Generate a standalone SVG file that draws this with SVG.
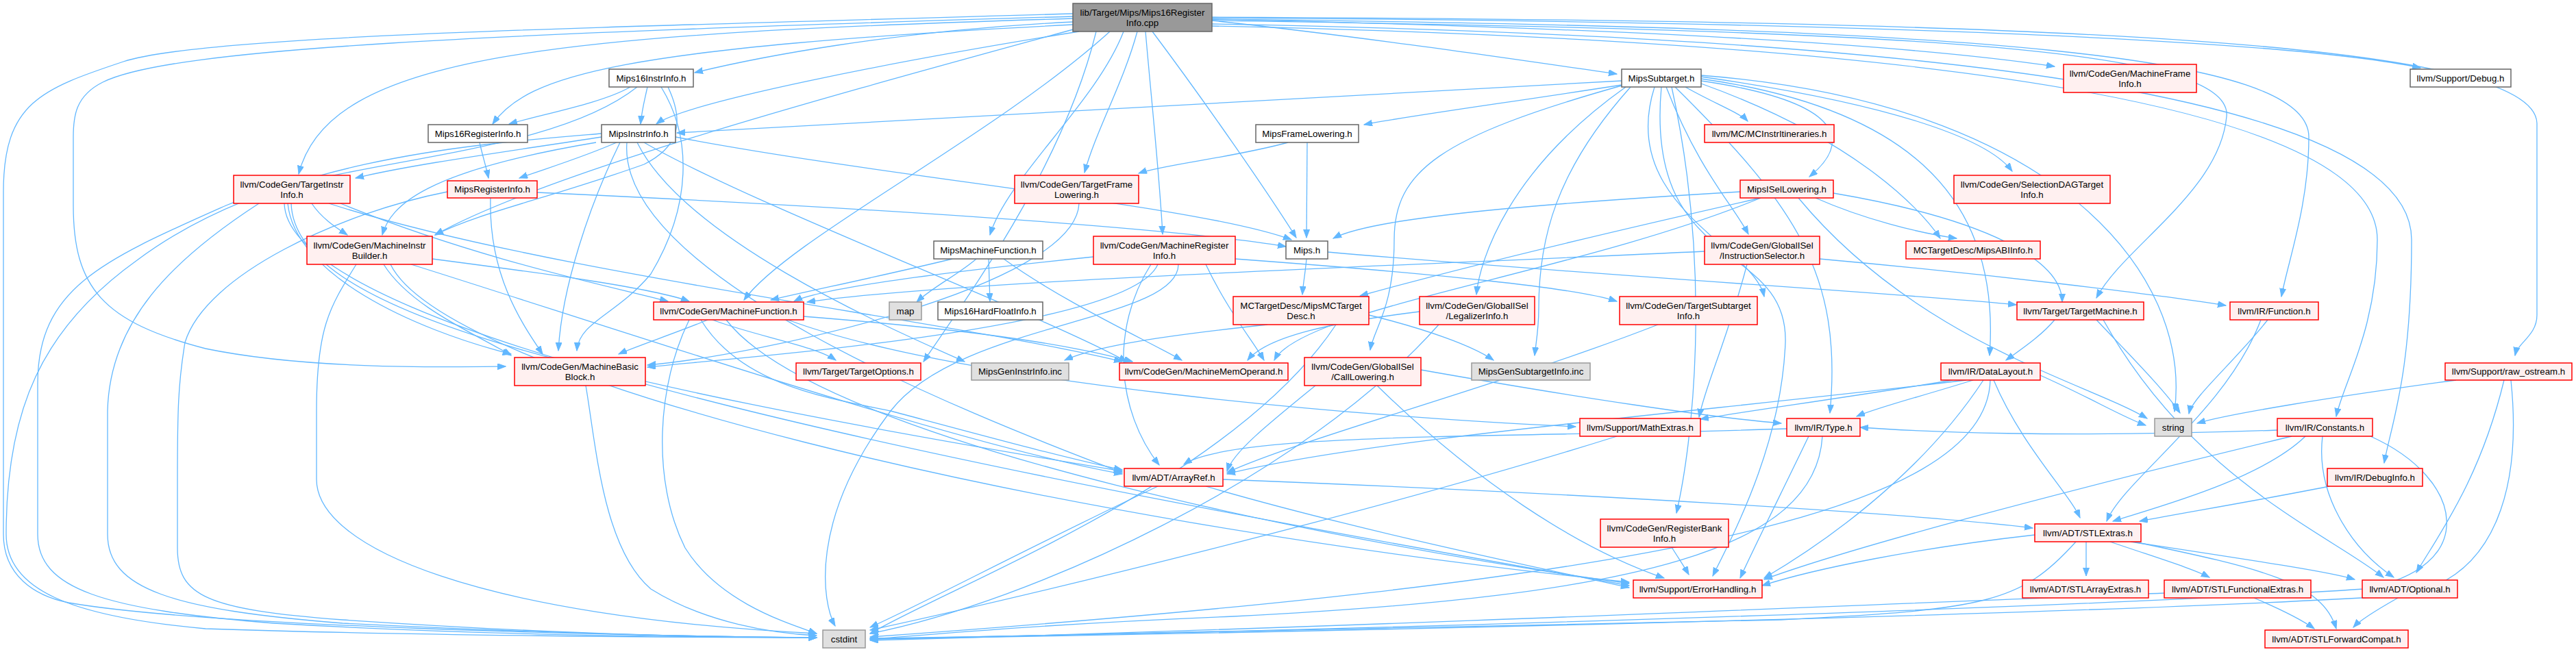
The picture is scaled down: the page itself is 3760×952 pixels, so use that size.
<svg xmlns="http://www.w3.org/2000/svg" width="3760" height="952" viewBox="0 0 3760 952">
<style>
.e{fill:none;stroke:#63B8FF;stroke-width:1.3;marker-end:url(#a)}
.nm{fill:#999999;stroke:#666666;stroke-width:1.5}
.nw{fill:#ffffff;stroke:#666666;stroke-width:1.5}
.nr{fill:#FFF0F0;stroke:#FF0000;stroke-width:1.5}
.ng{fill:#E0E0E0;stroke:#999999;stroke-width:1.5}
text{font-family:"Liberation Sans",Arial,sans-serif;font-size:13.3px;fill:#000000;text-anchor:middle}
</style>
<defs>
<marker id="a" markerWidth="13" markerHeight="10" refX="12" refY="4.5" orient="auto" markerUnits="userSpaceOnUse"><path d="M0,0 L12,4.5 L0,9 Z" fill="#63B8FF" stroke="#63B8FF" stroke-width="1"/></marker>
</defs>
<rect x="0" y="0" width="3760" height="952" fill="#ffffff"/>
<g id="edges">
<path class="e" d="M1566,32 C1300,45 1100,85 1014,106"/>
<path class="e" d="M1566,36 C900,70 770,110 719,181"/>
<path class="e" d="M1575,46 C1300,90 1000,150 958,181"/>
<path class="e" d="M1566,27 C800,50 480,80 436,254"/>
<path class="e" d="M1570,42 C1250,130 800,250 635,343"/>
<path class="e" d="M1682,46 C1760,150 1850,280 1892,347"/>
<path class="e" d="M1640,46 C1600,150 1470,260 1445,343"/>
<path class="e" d="M1660,46 C1640,120 1600,190 1583,252"/>
<path class="e" d="M1672,46 C1680,140 1692,250 1697,342"/>
<path class="e" d="M1620,46 C1450,200 1150,350 1086,438"/>
<path class="e" d="M1769,30 C2000,55 2200,85 2360,108"/>
<path class="e" d="M1769,28 C2300,40 2750,60 2999,97"/>
<path class="e" d="M1769,26 C2500,30 3300,50 3533,99"/>
<path class="e" d="M1769,30 C2800,45 3260,70 3250,170 C3240,280 3100,360 3060,435"/>
<path class="e" d="M1769,28 C2900,40 3370,80 3370,200 C3370,300 3340,380 3330,433"/>
<path class="e" d="M1769,38 C2800,60 3470,150 3470,350 C3470,480 3420,560 3410,608"/>
<path class="e" d="M1769,35 C2900,55 3520,150 3520,350 C3520,550 3490,620 3480,676"/>
<path class="e" d="M1769,25 C3000,30 3700,60 3703,180 L3703,460 C3703,490 3675,500 3671,519"/>
<path class="e" d="M1566,20 C900,40 300,50 180,90 C60,130 5,150 5,280 L5,780 C5,840 50,870 100,880 C300,915 900,928 1192,931"/>
<path class="e" d="M1566,24 C700,50 250,70 150,120 C110,140 107,170 107,200 L107,300 C107,420 150,470 300,509 C450,540 650,536 738,535"/>
<path class="e" d="M1600,46 C1550,250 1400,450 1348,528"/>
<path class="e" d="M920,127 C880,150 800,165 743,181"/>
<path class="e" d="M945,127 C940,150 937,160 935,181"/>
<path class="e" d="M965,127 C1010,200 1010,300 950,400 C900,460 845,470 842,512"/>
<path class="e" d="M930,127 C800,230 500,230 330,300 C150,380 55,420 55,560 L55,780 C55,860 150,890 400,910 C700,928 1000,930 1192,931"/>
<path class="e" d="M975,127 C1000,180 990,215 940,240 C800,290 700,310 635,343"/>
<path class="e" d="M700,208 C705,230 710,245 713,260"/>
<path class="e" d="M878,200 C750,220 600,240 519,260"/>
<path class="e" d="M900,208 C850,230 800,245 758,260"/>
<path class="e" d="M870,208 C620,250 570,300 558,343"/>
<path class="e" d="M905,208 C860,300 820,420 815,512"/>
<path class="e" d="M986,200 C1300,260 1750,300 1885,350"/>
<path class="e" d="M940,208 C1100,300 1500,450 1645,528"/>
<path class="e" d="M930,208 C1000,350 1300,480 1408,528"/>
<path class="e" d="M915,208 C900,400 1400,600 1638,690"/>
<path class="e" d="M878,195 C700,210 400,230 200,380 C60,480 9,600 9,780 C9,860 100,900 300,918 C600,928 1000,931 1192,931"/>
<path class="e" d="M784,281 C1200,300 1700,330 1877,360"/>
<path class="e" d="M716,289 C713,400 760,470 792,517"/>
<path class="e" d="M653,280 C500,310 300,400 270,500 C260,560 259,600 259,700 L259,800 C259,870 300,890 500,905 C800,925 1000,930 1192,931"/>
<path class="e" d="M455,297 C470,320 495,335 507,343"/>
<path class="e" d="M420,297 C430,400 600,480 746,517"/>
<path class="e" d="M497,297 C700,380 900,420 975,440"/>
<path class="e" d="M480,297 C800,400 1400,470 1638,528"/>
<path class="e" d="M425,297 C430,450 800,550 1638,688"/>
<path class="e" d="M415,297 C420,500 1500,700 2378,855"/>
<path class="e" d="M378,297 C250,380 160,470 157,600 L157,780 C157,860 250,890 500,910 C800,925 1000,930 1192,931"/>
<path class="e" d="M560,386 C600,450 700,490 746,519"/>
<path class="e" d="M631,378 C800,400 950,420 1006,440"/>
<path class="e" d="M600,386 C900,480 1400,650 1638,692"/>
<path class="e" d="M570,386 C650,550 1500,760 2378,850"/>
<path class="e" d="M520,386 C480,450 462,480 462,600 L462,700 C462,800 700,900 1192,925"/>
<path class="e" d="M1880,208 C1800,230 1700,240 1662,253"/>
<path class="e" d="M1908,208 L1907,347"/>
<path class="e" d="M1575,297 C1570,420 1100,520 945,533"/>
<path class="e" d="M1390,378 C1300,400 1180,425 1125,438"/>
<path class="e" d="M1425,378 C1400,400 1360,420 1338,441"/>
<path class="e" d="M1443,378 L1445,440"/>
<path class="e" d="M1465,378 C1550,440 1680,500 1725,526"/>
<path class="e" d="M1596,375 C1400,395 1200,420 1159,440"/>
<path class="e" d="M1690,386 C1650,480 1100,520 945,536"/>
<path class="e" d="M1803,378 C2100,400 2300,420 2360,440"/>
<path class="e" d="M1680,386 C1620,480 1630,600 1692,679"/>
<path class="e" d="M1720,386 C1720,470 1400,470 1300,600 C1180,760 1200,880 1219,914"/>
<path class="e" d="M1760,386 C1790,450 1830,500 1845,526"/>
<path class="e" d="M1033,467 C990,485 930,505 903,517"/>
<path class="e" d="M1040,467 C1100,490 1190,505 1220,526"/>
<path class="e" d="M1173,462 C1400,480 1550,500 1653,528"/>
<path class="e" d="M1023,467 C1080,560 1200,580 1300,600 C1450,640 1560,670 1638,686"/>
<path class="e" d="M1060,467 C1200,650 2000,800 2378,852"/>
<path class="e" d="M1006,467 C960,560 950,700 1000,800 C1050,880 1150,910 1192,925"/>
<path class="e" d="M1150,467 C1400,560 2000,610 2300,623"/>
<path class="e" d="M1950,474 C1800,700 1400,850 1270,925"/>
<path class="e" d="M1998,460 C2080,480 2150,505 2180,526"/>
<path class="e" d="M1850,474 C1700,490 1600,505 1554,526"/>
<path class="e" d="M2367,118 C1800,150 1300,180 988,194"/>
<path class="e" d="M2367,124 C2200,150 2050,170 1991,182"/>
<path class="e" d="M2460,127 C2500,150 2540,165 2551,177"/>
<path class="e" d="M2483,118 C2700,150 2700,210 2641,258"/>
<path class="e" d="M2432,127 C2480,250 2530,300 2552,342"/>
<path class="e" d="M2373,127 C2200,250 2160,380 2155,430"/>
<path class="e" d="M2415,127 C2360,300 2560,360 2575,433"/>
<path class="e" d="M2367,125 C2100,200 2035,250 2035,350 C2035,450 2005,480 2000,511"/>
<path class="e" d="M2380,127 C2270,250 2246,350 2246,450 C2246,480 2242,500 2240,519"/>
<path class="e" d="M2440,127 C2500,400 2470,650 2447,749"/>
<path class="e" d="M2483,115 C2800,160 2920,300 2904,519"/>
<path class="e" d="M2483,122 C2700,200 2800,300 2832,348"/>
<path class="e" d="M2483,112 C2750,150 2900,200 2937,250"/>
<path class="e" d="M2425,127 C2400,400 2610,350 2606,500 C2600,650 2530,780 2500,841"/>
<path class="e" d="M2445,127 C2620,300 2690,400 2671,603"/>
<path class="e" d="M2483,110 C3000,150 3200,400 3174,601"/>
<path class="e" d="M1907,378 C1905,400 1902,415 1901,430"/>
<path class="e" d="M1938,368 C2300,400 2800,430 2943,445"/>
<path class="e" d="M2540,280 C2200,300 2000,320 1946,348"/>
<path class="e" d="M2570,289 C2300,350 2100,400 1985,432"/>
<path class="e" d="M2650,289 C2720,320 2800,340 2856,348"/>
<path class="e" d="M2676,282 C2900,320 3010,380 3010,441"/>
<path class="e" d="M2570,289 C2300,400 1900,450 1860,526"/>
<path class="e" d="M2625,289 C2800,500 3050,560 3134,611"/>
<path class="e" d="M2488,367 C2000,390 1400,410 1178,441"/>
<path class="e" d="M2656,378 C2900,400 3150,430 3249,446"/>
<path class="e" d="M2550,386 C2520,500 2490,560 2480,609"/>
<path class="e" d="M2072,455 C1950,470 1850,490 1821,526"/>
<path class="e" d="M2100,474 C1900,700 1500,880 1270,925"/>
<path class="e" d="M2420,474 C2200,560 1900,640 1791,690"/>
<path class="e" d="M1920,563 C1850,620 1800,660 1791,688"/>
<path class="e" d="M2074,540 C2300,580 2500,610 2600,618"/>
<path class="e" d="M2010,563 C2150,700 2300,800 2429,844"/>
<path class="e" d="M2999,467 C2980,490 2950,510 2928,526"/>
<path class="e" d="M3060,467 C3110,520 3160,570 3182,603"/>
<path class="e" d="M3070,467 C3200,700 3400,780 3479,843"/>
<path class="e" d="M3310,467 C3260,530 3200,580 3195,604"/>
<path class="e" d="M3300,467 C3250,600 3100,700 3075,761"/>
<path class="e" d="M2978,548 C3050,580 3100,610 3132,621"/>
<path class="e" d="M2910,555 C2950,650 3020,720 3036,756"/>
<path class="e" d="M2870,555 C2500,600 2000,640 1791,692"/>
<path class="e" d="M2850,555 C2700,580 2550,600 2482,612"/>
<path class="e" d="M2880,555 C2800,580 2740,595 2710,608"/>
<path class="e" d="M2895,555 C2800,700 2650,800 2575,844"/>
<path class="e" d="M2905,555 C2900,750 2400,850 1270,930"/>
<path class="e" d="M3585,555 C3400,580 3250,605 3207,618"/>
<path class="e" d="M3655,555 C3620,700 3560,780 3527,836"/>
<path class="e" d="M3665,555 C3680,700 3650,850 3500,870 C3000,900 1800,925 1270,933"/>
<path class="e" d="M3365,637 C3300,700 3150,740 3084,761"/>
<path class="e" d="M3390,637 C3380,720 3430,800 3494,843"/>
<path class="e" d="M3324,628 C3000,640 2800,630 2715,624"/>
<path class="e" d="M3345,637 C3000,720 2700,800 2575,846"/>
<path class="e" d="M3460,637 C3600,700 3620,830 3450,860 C3000,890 1800,925 1270,932"/>
<path class="e" d="M3400,710 C3300,730 3180,750 3123,761"/>
<path class="e" d="M1785,700 C2300,720 2800,750 2967,771"/>
<path class="e" d="M1760,710 C2000,780 2300,840 2378,858"/>
<path class="e" d="M1690,710 C1500,800 1350,880 1270,916"/>
<path class="e" d="M2360,637 C2000,750 1500,870 1270,920"/>
<path class="e" d="M2608,626 C2200,640 1800,630 1728,678"/>
<path class="e" d="M2640,637 C2600,720 2560,800 2540,844"/>
<path class="e" d="M2660,637 C2650,800 2400,870 1800,900 C1500,912 1350,928 1270,933"/>
<path class="e" d="M2440,799 C2450,815 2460,830 2465,839"/>
<path class="e" d="M3045,791 L3045,841"/>
<path class="e" d="M3080,791 C3150,815 3200,830 3225,843"/>
<path class="e" d="M3110,791 C3300,820 3400,835 3437,846"/>
<path class="e" d="M3115,791 C3300,830 3390,850 3410,918"/>
<path class="e" d="M2970,781 C2800,800 2650,830 2572,855"/>
<path class="e" d="M3030,791 C2950,880 2900,890 2600,905 C2000,920 1500,930 1270,933"/>
<path class="e" d="M3290,873 C3330,890 3360,905 3378,918"/>
<path class="e" d="M3159,866 C2800,880 2000,915 1270,935"/>
<path class="e" d="M3500,873 C3470,890 3445,905 3435,916"/>
<path class="e" d="M855,563 C870,650 880,800 950,860 C1030,910 1130,925 1192,928"/>
</g>
<g id="n0"><rect class="nm" x="1566" y="5" width="203" height="41"/><text x="1667.5" y="23">lib/Target/Mips/Mips16Register</text><text x="1667.5" y="38">Info.cpp</text></g>
<g id="n1"><rect class="nw" x="889" y="101" width="123" height="26"/><text x="950.5" y="119">Mips16InstrInfo.h</text></g>
<g id="n2"><rect class="nw" x="625" y="182" width="145" height="26"/><text x="697.5" y="200">Mips16RegisterInfo.h</text></g>
<g id="n3"><rect class="nw" x="878" y="182" width="108" height="26"/><text x="932" y="200">MipsInstrInfo.h</text></g>
<g id="n4"><rect class="nr" x="341" y="256" width="170" height="41"/><text x="426" y="274">llvm/CodeGen/TargetInstr</text><text x="426" y="289">Info.h</text></g>
<g id="n5"><rect class="nr" x="653" y="264" width="131" height="25"/><text x="718.5" y="281">MipsRegisterInfo.h</text></g>
<g id="n6"><rect class="nr" x="448" y="345" width="183" height="41"/><text x="539.5" y="363">llvm/CodeGen/MachineInstr</text><text x="539.5" y="378">Builder.h</text></g>
<g id="n7"><rect class="nw" x="1833" y="182" width="150" height="26"/><text x="1908" y="200">MipsFrameLowering.h</text></g>
<g id="n8"><rect class="nr" x="1481" y="256" width="181" height="41"/><text x="1571.5" y="274">llvm/CodeGen/TargetFrame</text><text x="1571.5" y="289">Lowering.h</text></g>
<g id="n9"><rect class="nw" x="1363" y="352" width="159" height="26"/><text x="1442.5" y="370">MipsMachineFunction.h</text></g>
<g id="n10"><rect class="nr" x="1596" y="345" width="207" height="41"/><text x="1699.5" y="363">llvm/CodeGen/MachineRegister</text><text x="1699.5" y="378">Info.h</text></g>
<g id="n11"><rect class="nr" x="954" y="441" width="219" height="26"/><text x="1063.5" y="459">llvm/CodeGen/MachineFunction.h</text></g>
<g id="n12"><rect class="ng" x="1298" y="441" width="47" height="26"/><text x="1321.5" y="459">map</text></g>
<g id="n13"><rect class="nw" x="1369" y="441" width="153" height="26"/><text x="1445.5" y="459">Mips16HardFloatInfo.h</text></g>
<g id="n14"><rect class="nr" x="1800" y="433" width="198" height="41"/><text x="1899" y="451">MCTargetDesc/MipsMCTarget</text><text x="1899" y="466">Desc.h</text></g>
<g id="n15"><rect class="nw" x="2367" y="101" width="116" height="26"/><text x="2425" y="119">MipsSubtarget.h</text></g>
<g id="n16"><rect class="nr" x="2488" y="182" width="189" height="26"/><text x="2582.5" y="200">llvm/MC/MCInstrItineraries.h</text></g>
<g id="n17"><rect class="nr" x="2540" y="263" width="136" height="26"/><text x="2608" y="281">MipsISelLowering.h</text></g>
<g id="n18"><rect class="nw" x="1877" y="352" width="61" height="26"/><text x="1907.5" y="370">Mips.h</text></g>
<g id="n19"><rect class="nr" x="2488" y="345" width="168" height="41"/><text x="2572" y="363">llvm/CodeGen/GlobalISel</text><text x="2572" y="378">/InstructionSelector.h</text></g>
<g id="n20"><rect class="nr" x="2782" y="352" width="196" height="26"/><text x="2880" y="370">MCTargetDesc/MipsABIInfo.h</text></g>
<g id="n21"><rect class="nr" x="2072" y="433" width="168" height="41"/><text x="2156" y="451">llvm/CodeGen/GlobalISel</text><text x="2156" y="466">/LegalizerInfo.h</text></g>
<g id="n22"><rect class="nr" x="2364" y="433" width="201" height="41"/><text x="2464.5" y="451">llvm/CodeGen/TargetSubtarget</text><text x="2464.5" y="466">Info.h</text></g>
<g id="n23"><rect class="nr" x="3012" y="94" width="194" height="41"/><text x="3109" y="112">llvm/CodeGen/MachineFrame</text><text x="3109" y="127">Info.h</text></g>
<g id="n24"><rect class="nw" x="3518" y="101" width="147" height="26"/><text x="3591.5" y="119">llvm/Support/Debug.h</text></g>
<g id="n25"><rect class="nr" x="2852" y="256" width="228" height="41"/><text x="2966" y="274">llvm/CodeGen/SelectionDAGTarget</text><text x="2966" y="289">Info.h</text></g>
<g id="n26"><rect class="nr" x="2944" y="441" width="185" height="26"/><text x="3036.5" y="459">llvm/Target/TargetMachine.h</text></g>
<g id="n27"><rect class="nr" x="3255" y="441" width="129" height="26"/><text x="3319.5" y="459">llvm/IR/Function.h</text></g>
<g id="n28"><rect class="nr" x="751" y="522" width="191" height="41"/><text x="846.5" y="540">llvm/CodeGen/MachineBasic</text><text x="846.5" y="555">Block.h</text></g>
<g id="n29"><rect class="nr" x="1162" y="530" width="182" height="25"/><text x="1253" y="547">llvm/Target/TargetOptions.h</text></g>
<g id="n30"><rect class="ng" x="1418" y="530" width="142" height="25"/><text x="1489" y="547">MipsGenInstrInfo.inc</text></g>
<g id="n31"><rect class="nr" x="1634" y="530" width="246" height="25"/><text x="1757" y="547">llvm/CodeGen/MachineMemOperand.h</text></g>
<g id="n32"><rect class="nr" x="1641" y="684" width="144" height="26"/><text x="1713" y="702">llvm/ADT/ArrayRef.h</text></g>
<g id="n33"><rect class="ng" x="1201" y="920" width="62" height="26"/><text x="1232" y="938">cstdint</text></g>
<g id="n34"><rect class="nr" x="1904" y="522" width="170" height="41"/><text x="1989" y="540">llvm/CodeGen/GlobalISel</text><text x="1989" y="555">/CallLowering.h</text></g>
<g id="n35"><rect class="ng" x="2148" y="530" width="173" height="25"/><text x="2234.5" y="547">MipsGenSubtargetInfo.inc</text></g>
<g id="n36"><rect class="nr" x="2306" y="611" width="176" height="26"/><text x="2394" y="629">llvm/Support/MathExtras.h</text></g>
<g id="n37"><rect class="nr" x="2608" y="611" width="107" height="26"/><text x="2661.5" y="629">llvm/IR/Type.h</text></g>
<g id="n38"><rect class="nr" x="2336" y="758" width="187" height="41"/><text x="2429.5" y="776">llvm/CodeGen/RegisterBank</text><text x="2429.5" y="791">Info.h</text></g>
<g id="n39"><rect class="nr" x="2384" y="847" width="188" height="26"/><text x="2478" y="865">llvm/Support/ErrorHandling.h</text></g>
<g id="n40"><rect class="nr" x="2833" y="530" width="145" height="25"/><text x="2905.5" y="547">llvm/IR/DataLayout.h</text></g>
<g id="n41"><rect class="nr" x="3569" y="530" width="185" height="25"/><text x="3661.5" y="547">llvm/Support/raw_ostream.h</text></g>
<g id="n42"><rect class="ng" x="3145" y="611" width="54" height="26"/><text x="3172" y="629">string</text></g>
<g id="n43"><rect class="nr" x="3324" y="611" width="139" height="26"/><text x="3393.5" y="629">llvm/IR/Constants.h</text></g>
<g id="n44"><rect class="nr" x="3397" y="684" width="139" height="26"/><text x="3466.5" y="702">llvm/IR/DebugInfo.h</text></g>
<g id="n45"><rect class="nr" x="2970" y="765" width="155" height="26"/><text x="3047.5" y="783">llvm/ADT/STLExtras.h</text></g>
<g id="n46"><rect class="nr" x="2952" y="847" width="184" height="26"/><text x="3044" y="865">llvm/ADT/STLArrayExtras.h</text></g>
<g id="n47"><rect class="nr" x="3159" y="847" width="214" height="26"/><text x="3266" y="865">llvm/ADT/STLFunctionalExtras.h</text></g>
<g id="n48"><rect class="nr" x="3448" y="847" width="139" height="26"/><text x="3517.5" y="865">llvm/ADT/Optional.h</text></g>
<g id="n49"><rect class="nr" x="3306" y="920" width="209" height="26"/><text x="3410.5" y="938">llvm/ADT/STLForwardCompat.h</text></g>
</svg>
